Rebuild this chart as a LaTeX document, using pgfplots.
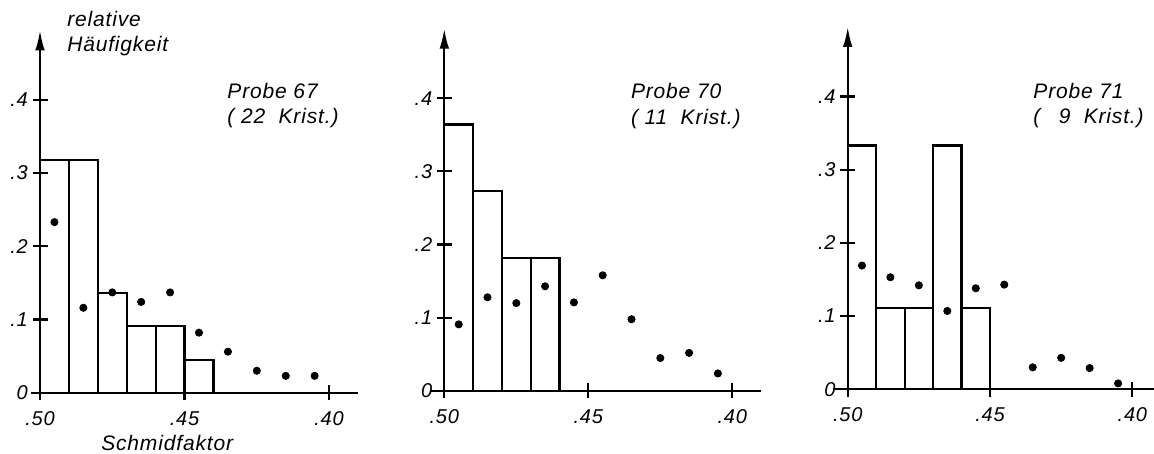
\documentclass[border=0pt]{standalone}
\usepackage{pgfplots}
\pgfplotsset{compat=1.18}
\usetikzlibrary{arrows.meta}
\usepackage{fontspec}
\setmainfont{Liberation Sans}
\newfontfamily\labfont[LetterSpace=4]{Liberation Sans}

\pgfplotsset{schmid/.style={
  scale only axis, anchor=south west,
  axis lines*=left,
  axis line style={line width=1.1pt, black},
  y axis line style={-{Latex[length=10pt,width=4.8pt]}},
  xmin=0, ymin=0, ymax=0.495,
  xtick={0,5,10}, xticklabels={.50,.45,.40},
  ytick={0,0.1,0.2,0.3,0.4}, yticklabels={0,.1,.2,.3,.4},
  tick align=center, major tick length=7.5pt,
  tick style={line width=1.1pt, black},
  tick label style={font=\labfont\itshape\fontsize{10}{12}\selectfont, black},
  yticklabel style={xshift=1.2pt},
  xticklabel style={yshift=-2pt},
  clip=false,
  height=181.2pt,
}}
\tikzset{bars/.style={ybar interval, draw=black, fill=none, line width=1.1pt},
 dots/.style={only marks, mark=*, mark size=1.8pt, black},
 lab/.style={font=\labfont\itshape\fontsize{10.5}{12}\selectfont, anchor=west, inner sep=0pt}}

\begin{document}
\begin{tikzpicture}
\path[use as bounding box] (0pt,0pt) rectangle (577pt,227pt);

% Panel 1: Probe 67
\begin{axis}[schmid, at={(20pt,30.65pt)}, xmax=11, width=159pt]
\addplot[bars] coordinates {(0,0.318) (1,0.318) (2,0.136) (3,0.091) (4,0.091) (5,0.045) (6,0)};
\addplot[dots] coordinates {(0.5,0.233) (1.5,0.116) (2.5,0.137) (3.5,0.124) (4.5,0.137) (5.5,0.082) (6.5,0.056) (7.5,0.030) (8.5,0.023) (9.5,0.023)};
\draw[line width=1.1pt] (axis cs:-0.3,0) -- (axis cs:0,0);
\node[lab] at (axis cs:6.47,0.412) {Probe 67};
\node[lab] at (axis cs:6.47,0.375) {( 22\ \ Krist.)};
\node[lab] at (axis cs:0.93,0.511) {relative};
\node[lab] at (axis cs:0.93,0.474) {Häufigkeit};
\node[lab, anchor=center] at (axis cs:4.4,-0.069) {Schmidfaktor};
\end{axis}

% Panel 2: Probe 70
\begin{axis}[schmid, at={(222.15pt,31.5pt)}, xmax=11, width=158.4pt]
\addplot[bars] coordinates {(0,0.364) (1,0.273) (2,0.182) (3,0.182) (4,0)};
\addplot[dots] coordinates {(0.5,0.091) (1.5,0.128) (2.5,0.120) (3.5,0.143) (4.5,0.121) (5.5,0.158) (6.5,0.098) (7.5,0.045) (8.5,0.052) (9.5,0.024)};
\draw[line width=1.1pt] (axis cs:-0.5,0) -- (axis cs:0,0);
\node[lab] at (axis cs:6.47,0.41) {Probe 70};
\node[lab] at (axis cs:6.47,0.372) {( 11\ \ Krist.)};
\end{axis}

% Panel 3: Probe 71
\begin{axis}[schmid, at={(423.85pt,32.35pt)}, xmax=10.8, width=153.7pt]
\addplot[bars] coordinates {(0,0.333) (1,0.111) (2,0.111) (3,0.333) (4,0.111) (5,0)};
\addplot[dots] coordinates {(0.5,0.169) (1.5,0.153) (2.5,0.142) (3.5,0.107) (4.5,0.138) (5.5,0.143) (6.5,0.030) (7.5,0.043) (8.5,0.029) (9.5,0.008)};
\draw[line width=1.1pt] (axis cs:-0.5,0) -- (axis cs:0,0);
\node[lab] at (axis cs:6.51,0.407) {Probe 71};
\node[lab] at (axis cs:6.51,0.37) {(\ \phantom{1}9\ \ Krist.)};
\end{axis}
\end{tikzpicture}
\end{document}
